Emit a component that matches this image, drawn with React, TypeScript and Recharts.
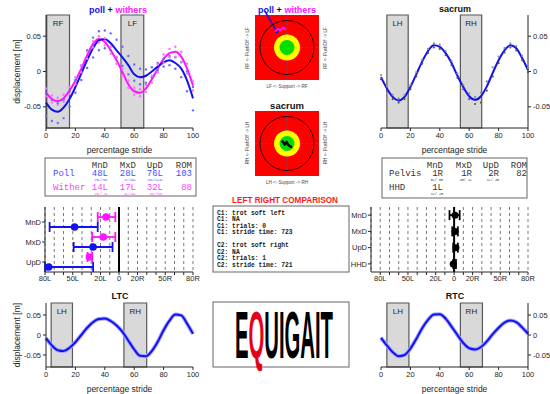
import React from 'react'
import {
  ComposedChart, ScatterChart, Line, Scatter, XAxis, YAxis, CartesianGrid,
  ReferenceArea, ReferenceLine, ReferenceDot, ErrorBar,
} from 'recharts'

const SANS = '"Liberation Sans", Arial, sans-serif'
const MONO = '"Liberation Mono", "Courier New", monospace'
const INK = '#262626'
const BLUE = '#1212f0'
const MAGENTA = '#ff14ff'

// percentage of stride at which the curves were read
const stride = [0, 4, 8, 12, 16, 20, 24, 28, 32, 36, 40, 44, 48, 52, 56, 60, 64, 68, 72, 76, 80, 84, 88, 92, 96, 100]

// poll + withers (m)
const poll = [-0.044, -0.054, -0.057, -0.051, -0.039, -0.022, -0.003, 0.016, 0.033, 0.044, 0.046, 0.040, 0.030, 0.020, 0.009, -0.004, -0.008, -0.006, 0.000, 0.007, 0.013, 0.016, 0.012, 0.004, -0.013, -0.038]
const pollHi = [-0.030, -0.040, -0.045, -0.040, -0.028, -0.012, 0.008, 0.030, 0.048, 0.057, 0.058, 0.054, 0.045, 0.035, 0.022, 0.010, 0.004, 0.003, 0.006, 0.012, 0.018, 0.022, 0.020, 0.013, 0.000, -0.022]
const pollLo = [-0.063, -0.070, -0.073, -0.066, -0.050, -0.030, -0.012, 0.005, 0.020, 0.030, 0.033, 0.030, 0.020, 0.008, -0.004, -0.013, -0.018, -0.016, -0.008, 0.001, 0.007, 0.009, 0.004, -0.008, -0.028, -0.055]
const withers = [-0.030, -0.039, -0.042, -0.038, -0.027, -0.013, 0.004, 0.023, 0.039, 0.046, 0.042, 0.030, 0.016, -0.001, -0.018, -0.028, -0.030, -0.024, -0.011, 0.004, 0.018, 0.026, 0.028, 0.021, 0.004, -0.020]
const withersHi = [-0.024, -0.034, -0.037, -0.033, -0.022, -0.008, 0.009, 0.028, 0.043, 0.050, 0.047, 0.035, 0.021, 0.004, -0.013, -0.023, -0.025, -0.019, -0.006, 0.010, 0.024, 0.032, 0.035, 0.028, 0.011, -0.013]
const withersLo = [-0.035, -0.044, -0.047, -0.043, -0.032, -0.018, -0.001, 0.018, 0.034, 0.041, 0.037, 0.025, 0.011, -0.006, -0.023, -0.033, -0.035, -0.029, -0.016, -0.001, 0.012, 0.020, 0.021, 0.014, -0.003, -0.027]

// sacrum, left and right tuber coxae (m)
const sacrum = [-0.008, -0.024, -0.036, -0.041, -0.036, -0.022, -0.004, 0.014, 0.029, 0.037, 0.035, 0.026, 0.012, -0.006, -0.022, -0.035, -0.040, -0.035, -0.021, -0.002, 0.016, 0.030, 0.037, 0.033, 0.019, 0.002]
const sacrumHi = [-0.005, -0.021, -0.033, -0.038, -0.033, -0.019, -0.001, 0.017, 0.032, 0.040, 0.038, 0.029, 0.015, -0.003, -0.019, -0.031, -0.036, -0.030, -0.014, 0.006, 0.021, 0.033, 0.040, 0.036, 0.022, 0.005]
const sacrumLo = [-0.011, -0.027, -0.039, -0.044, -0.039, -0.025, -0.007, 0.011, 0.026, 0.034, 0.032, 0.023, 0.009, -0.009, -0.025, -0.039, -0.046, -0.044, -0.027, -0.007, 0.012, 0.027, 0.034, 0.030, 0.016, -0.001]
const ltc = [-0.008, -0.026, -0.038, -0.040, -0.032, -0.018, 0.000, 0.018, 0.032, 0.040, 0.041, 0.035, 0.024, 0.008, -0.014, -0.036, -0.052, -0.053, -0.040, -0.017, 0.012, 0.036, 0.051, 0.049, 0.028, 0.003]
const rtc = [-0.007, -0.026, -0.043, -0.053, -0.050, -0.034, -0.010, 0.017, 0.038, 0.051, 0.052, 0.041, 0.021, 0.000, -0.020, -0.033, -0.036, -0.030, -0.016, 0.002, 0.018, 0.031, 0.036, 0.032, 0.019, 0.003]

type Stance = { label: string; from: number; to: number }
const foreStance: Stance[] = [{ label: 'RF', from: 0.5, to: 16 }, { label: 'LF', from: 51, to: 66.5 }]
const sacrumStance: Stance[] = [{ label: 'LH', from: 4, to: 18.5 }, { label: 'RH', from: 54, to: 68.5 }]
const ltcStance: Stance[] = [{ label: 'LH', from: 3.5, to: 18 }, { label: 'RH', from: 53, to: 68.5 }]
const rtcStance: Stance[] = [{ label: 'LH', from: 4, to: 19 }, { label: 'RH', from: 54, to: 69 }]

// asymmetry values (negative = L, positive = R) and the two-condition pairs
const foreRows = ['MnD', 'MxD', 'UpD']
const pollAsym = [-48, -28, -76]
const pollPairs = [[-23, -75], [-7, -49], [-28, -124]]
const pollRom = 103
const withersAsym = [-14, -17, -32]
const withersPairs = [[-23, -4], [-4, -29], [-29, -34]]
const withersRom = 88

const hindRows = ['MnD', 'MxD', 'UpD', 'HHD']
const hindAsym = [1, 1, 2, -1]
const hindPairs = [[-5, 6], [4, -2], [-1, 4], [-1, 2]]
const pelvisRom = 82

const asymTicks = [-80, -70, -60, -50, -40, -30, -20, -10, 0, 10, 20, 30, 40, 50, 60, 70, 80]
const asymLabelled = [80, 50, 20]

// target plot traces (normalised units)
const withersTrace = [{ x: -0.36, y: 0.5 }, { x: -0.28, y: 0.57 }, { x: -0.2, y: 0.53 }, { x: -0.13, y: 0.61 }, { x: -0.06, y: 0.56 }]
const pollTrace = [{ x: -0.34, y: 0.46 }, { x: -0.27, y: 0.5 }]
const sacrumTrace = [{ x: -0.14, y: 0.06 }, { x: -0.07, y: -0.02 }, { x: -0.01, y: 0.04 }, { x: 0.05, y: -0.05 }, { x: 0.13, y: -0.11 }]

const comparisonLines = [
  'C1: trot soft left', 'C1: NA', 'C1: trials: 0', 'C1: stride time: 723', '',
  'C2: trot soft right', 'C2: NA', 'C2: trials: 1', 'C2: stride time: 721',
]

const foreData = stride.map((x, i) => ({
  x, poll: poll[i], pollHi: pollHi[i], pollLo: pollLo[i],
  withers: withers[i], withersHi: withersHi[i], withersLo: withersLo[i],
}))
const sacrumData = stride.map((x, i) => ({ x, v: sacrum[i], hi: sacrumHi[i], lo: sacrumLo[i] }))
const ltcData = stride.map((x, i) => ({ x, v: ltc[i] }))
const rtcData = stride.map((x, i) => ({ x, v: rtc[i] }))

const side = (v: number) => (v === 0 ? '0' : `${Math.abs(v)}${v < 0 ? 'L' : 'R'}`)
const pair = (p: number[]) => `${side(p[0])}/${side(p[1]).padStart(3, ' ')}`
// error bar spans the pair, cut at the axis limits (the axis clips it in the original)
const errPoint = (x: number, y: number, p: number[], lim: number[]) => ({
  x, y,
  err: [x - Math.max(lim[0], Math.min(p[0], p[1])), Math.min(lim[1], Math.max(p[0], p[1])) - x],
})

const tickStyle = { fill: INK, fontSize: 7.5, fontFamily: SANS }

function StridePanel({ left, top, width, height, margin, orient, data, stance, yLabel, children }: any) {
  return (
    <div style={{ position: 'absolute', left, top }}>
      <ComposedChart width={width} height={height} margin={margin} data={data}>
        {stance.map((s: Stance) => (
          <ReferenceArea key={s.label} x1={s.from} x2={s.to} y1={-0.08} y2={0.08}
            fill="#d9d9d9" fillOpacity={1} stroke="#595959" strokeWidth={1.2}
            label={{ value: s.label, position: 'insideTop', offset: 5, fill: INK, fontSize: 8, fontFamily: SANS }} />
        ))}
        <XAxis dataKey="x" type="number" domain={[0, 100]} ticks={[0, 20, 40, 60, 80, 100]} height={27}
          tick={tickStyle} tickSize={3} tickMargin={2} stroke={INK}
          label={{ value: 'percentage stride', position: 'insideBottom', offset: 2, fill: INK, fontSize: 8.5, fontFamily: SANS }} />
        <YAxis orientation={orient} type="number" domain={[-0.08, 0.08]} ticks={[-0.05, 0, 0.05]}
          width={orient === 'left' ? 46 : 22} tick={tickStyle} tickSize={3} tickMargin={2} stroke={INK}
          tickFormatter={(v: number) => (v === 0 ? '0' : v.toFixed(2))}
          label={yLabel ? { value: yLabel, angle: -90, position: 'insideLeft', offset: 17, fill: INK, fontSize: 8.5, fontFamily: SANS, style: { textAnchor: 'middle' } } : undefined} />
        {children}
      </ComposedChart>
    </div>
  )
}

function AsymmetryPanel({ left, top, width, margin, yWidth, xDomain, yDomain, rows, series }: any) {
  return (
    <div style={{ position: 'absolute', left, top }}>
      <ScatterChart width={width} height={90} margin={margin}>
        <CartesianGrid horizontal={false} strokeDasharray="3 3" stroke="#7a7a7a" />
        <XAxis type="number" dataKey="x" domain={xDomain} allowDataOverflow ticks={asymTicks} interval={0}
          tickFormatter={(v: number) => (v === 0 ? '0' : asymLabelled.includes(Math.abs(v)) ? side(v) : '')}
          height={18} tick={tickStyle} tickSize={3} tickMargin={1} stroke={INK} />
        <YAxis type="number" dataKey="y" domain={yDomain} reversed allowDataOverflow
          ticks={rows.map((_: string, i: number) => i + 1)} tickFormatter={(v: number) => rows[v - 1] ?? ''}
          width={yWidth} tick={tickStyle} tickSize={3} tickMargin={1} stroke={INK} />
        <ReferenceLine x={0} stroke="#000" strokeWidth={2} />
        {series.map((s: any) => (
          <Scatter key={s.name} name={s.name} data={s.points} fill={s.color} isAnimationActive={false}
            shape={(p: any) => <circle cx={p.cx} cy={p.cy} r={s.r} fill={s.color} />}>
            <ErrorBar dataKey="err" direction="x" width={5} stroke={s.color} strokeWidth={1.8} />
          </Scatter>
        ))}
      </ScatterChart>
    </div>
  )
}

function TargetPanel({ top, traces, arrow }: any) {
  return (
    <div style={{ position: 'absolute', left: 245, top }}>
      <ScatterChart width={84} height={90} margin={{ top: 15, right: 10, bottom: 10, left: 10 }}>
        <XAxis type="number" dataKey="x" domain={[-1, 1]} hide />
        <YAxis type="number" dataKey="y" domain={[-1, 1]} hide />
        <ReferenceArea x1={-1} x2={1} y1={-1} y2={1} fill="#ff0000" fillOpacity={1} stroke="none" />
        <ReferenceDot x={0} y={0} r={27} fill="none" stroke="#000" strokeWidth={0.8} />
        <ReferenceDot x={0} y={0} r={13} fill="#ffff00" stroke="none" />
        <ReferenceDot x={0} y={0} r={7.5} fill="#00dd00" stroke="none" />
        <ReferenceLine x={0} stroke="#3a5aa8" strokeDasharray="3 2" strokeWidth={0.8} />
        <ReferenceLine y={0} stroke="#3a5aa8" strokeDasharray="3 2" strokeWidth={0.8} />
        {traces.map((t: any) => (
          <Scatter key={t.name} name={t.name} data={t.points} isAnimationActive={false}
            line={{ stroke: t.color, strokeWidth: t.width }}
            shape={(p: any) => <circle cx={p.cx} cy={p.cy} r={t.width / 2} fill={t.color} />} />
        ))}
        {arrow && <ReferenceLine segment={arrow} stroke={BLUE} strokeWidth={1.5} ifOverflow="visible" />}
      </ScatterChart>
    </div>
  )
}

function Overlay() {
  const leftEnds = [108, 136, 163, 192]
  const rightEnds = [443, 472, 499, 527]
  const pollCol = '#4b4bff'
  const witherCol = '#ff40ff'
  const grey = '#333'
  return (
    <svg width={550} height={394} style={{ position: 'absolute', left: 0, top: 0, pointerEvents: 'none' }}>
      {/* titles */}
      <text x={118} y={12.5} textAnchor="middle" fontSize={9} fontWeight="bold" fontFamily={SANS}>
        <tspan fill={BLUE}>poll</tspan><tspan fill="#111"> + </tspan><tspan fill={MAGENTA}>withers</tspan>
      </text>
      <text x={287} y={12.5} textAnchor="middle" fontSize={9} fontWeight="bold" fontFamily={SANS}>
        <tspan fill={BLUE}>poll</tspan><tspan fill="#111"> + </tspan><tspan fill={MAGENTA}>withers</tspan>
      </text>
      <text x={455} y={12} textAnchor="middle" fontSize={9} fontWeight="bold" fontFamily={SANS} fill="#111">sacrum</text>
      <text x={287} y={108.5} textAnchor="middle" fontSize={9.5} fontWeight="bold" fontFamily={SANS} fill="#111">sacrum</text>
      <text x={120} y={299} textAnchor="middle" fontSize={9} fontWeight="bold" fontFamily={SANS} fill="#111">LTC</text>
      <text x={455} y={299} textAnchor="middle" fontSize={9} fontWeight="bold" fontFamily={SANS} fill="#111">RTC</text>

      {/* target side labels */}
      {[[48, 'RF', 'LF', 86, 'LF  <- Support ->  RF'], [143, 'RH', 'LH', 182, 'LH  <- Support ->  RH']].map(([cy, a, b, by, bottom]: any) => (
        <g key={cy} fontSize={4.6} fontFamily={SANS} fill="#444" style={{ whiteSpace: 'pre' }}>
          <text transform={`translate(249,${cy}) rotate(-90)`} textAnchor="middle">{`${a}  <- PushOff ->  ${b}`}</text>
          <text transform={`translate(327,${cy}) rotate(-90)`} textAnchor="middle">{`${a}  <- PushOff ->  ${b}`}</text>
          <text x={287} y={by + 1.5} textAnchor="middle">{bottom}</text>
        </g>
      ))}

      {/* fore limb table */}
      <rect x={45} y={158} width={151} height={38} fill="#fff" stroke="#666" strokeWidth={1} />
      <g fontFamily={MONO} fontSize={9} textAnchor="end" style={{ whiteSpace: 'pre' }}>
        {['MnD', 'MxD', 'UpD', 'ROM'].map((c, i) => <text key={c} x={leftEnds[i]} y={168} fill={grey}>{c}</text>)}
        <text x={53} y={176} fill={pollCol} textAnchor="start">Poll</text>
        {pollAsym.map((v, i) => <text key={i} x={leftEnds[i]} y={176} fill={pollCol}>{side(v)}</text>)}
        <text x={leftEnds[3]} y={176} fill={pollCol}>{pollRom}</text>
        {pollPairs.map((p, i) => <text key={i} x={leftEnds[i]} y={180.5} fill={pollCol} fontSize={3.3}>{pair(p)}</text>)}
        <text x={53} y={190} fill={witherCol} textAnchor="start">Wither</text>
        {withersAsym.map((v, i) => <text key={i} x={leftEnds[i]} y={190} fill={witherCol}>{side(v)}</text>)}
        <text x={leftEnds[3]} y={190} fill={witherCol}>{withersRom}</text>
        {withersPairs.map((p, i) => <text key={i} x={leftEnds[i]} y={194.5} fill={witherCol} fontSize={3.3}>{pair(p)}</text>)}
      </g>

      {/* hind limb table */}
      <rect x={382} y={158} width={145} height={40} fill="#fff" stroke="#666" strokeWidth={1} />
      <g fontFamily={MONO} fontSize={9} textAnchor="end" fill={grey} style={{ whiteSpace: 'pre' }}>
        {['MnD', 'MxD', 'UpD', 'ROM'].map((c, i) => <text key={c} x={rightEnds[i]} y={168}>{c}</text>)}
        <text x={389} y={176} textAnchor="start">Pelvis</text>
        {hindAsym.slice(0, 3).map((v, i) => <text key={i} x={rightEnds[i]} y={176}>{side(v)}</text>)}
        <text x={rightEnds[3]} y={176}>{pelvisRom}</text>
        {hindPairs.slice(0, 3).map((p, i) => <text key={i} x={rightEnds[i]} y={180.5} fontSize={3.4}>{pair(p)}</text>)}
        <text x={389} y={190} textAnchor="start">HHD</text>
        <text x={rightEnds[0]} y={190}>{side(hindAsym[3])}</text>
        <text x={rightEnds[0]} y={194.5} fontSize={3.4}>{pair(hindPairs[3])}</text>
      </g>

      {/* comparison */}
      <text x={285} y={203} textAnchor="middle" fontSize={8.5} fontWeight="bold" fontFamily={SANS} fill="#ff1a1a"
        textLength={106} lengthAdjust="spacingAndGlyphs">LEFT RIGHT COMPARISON</text>
      <rect x={213} y={206} width={136} height={66} fill="#fff" stroke="#666" strokeWidth={1} />
      <g fontFamily={MONO} fontSize={6.3} fontWeight="bold" fill="#222">
        {comparisonLines.map((l, i) => <text key={i} x={217} y={214.5 + i * 6.55}>{l}</text>)}
      </g>

      {/* logo */}
      <rect x={213} y={302} width={136} height={65} fill="#fff" stroke="#666" strokeWidth={1} />
      <text x={284} y={358} textAnchor="middle" fontSize={66} fontWeight="bold" fill="#000"
        fontFamily='"Liberation Sans Narrow", "Liberation Sans", Arial' textLength={98} lengthAdjust="spacingAndGlyphs">
        E<tspan fill="#e8001a">Q</tspan>UIGAIT
      </text>
    </svg>
  )
}

export default function App() {
  return (
    <div style={{ position: 'absolute', left: 0, top: 0, width: 550, height: 394, background: '#fff', overflow: 'hidden', fontFamily: SANS }}>
      <StridePanel left={0} top={0} width={200} height={155} margin={{ top: 15, right: 7, bottom: 0, left: 0 }}
        orient="left" data={foreData} stance={foreStance} yLabel="displacement [m]">
        {[
          <Line key="ph" dataKey="pollHi" stroke="none" dot={{ r: 1.2, fill: '#6a6aff', stroke: 'none' }} isAnimationActive={false} />,
          <Line key="pl" dataKey="pollLo" stroke="none" dot={{ r: 1.2, fill: '#6a6aff', stroke: 'none' }} isAnimationActive={false} />,
          <Line key="wh" dataKey="withersHi" stroke="none" dot={{ r: 1.2, fill: '#ff70ff', stroke: 'none' }} isAnimationActive={false} />,
          <Line key="wl" dataKey="withersLo" stroke="none" dot={{ r: 1.2, fill: '#ff70ff', stroke: 'none' }} isAnimationActive={false} />,
          <Line key="w" type="monotone" dataKey="withers" stroke={MAGENTA} strokeWidth={2} dot={false} isAnimationActive={false} />,
          <Line key="p" type="monotone" dataKey="poll" stroke={BLUE} strokeWidth={2} dot={false} isAnimationActive={false} />,
        ]}
      </StridePanel>

      <StridePanel left={360} top={0} width={190} height={155} margin={{ top: 15, right: 0, bottom: 0, left: 21 }}
        orient="right" data={sacrumData} stance={sacrumStance}>
        {[
          <Line key="h" dataKey="hi" stroke="none" dot={{ r: 1.1, fill: '#8c8c8c', stroke: 'none' }} isAnimationActive={false} />,
          <Line key="v" type="monotone" dataKey="v" stroke={BLUE} strokeWidth={2} dot={false} isAnimationActive={false} />,
          <Line key="l" dataKey="lo" stroke="none" dot={{ r: 1.1, fill: '#555', stroke: 'none' }} isAnimationActive={false} />,
        ]}
      </StridePanel>

      <StridePanel left={0} top={290} width={200} height={104} margin={{ top: 13, right: 7, bottom: 0, left: 0 }}
        orient="left" data={ltcData} stance={ltcStance} yLabel="displacement [m]">
        {[
          <Line key="halo" type="monotone" dataKey="v" stroke="#a5a5ff" strokeWidth={4} dot={false} isAnimationActive={false} />,
          <Line key="v" type="monotone" dataKey="v" stroke={BLUE} strokeWidth={2} dot={false} isAnimationActive={false} />,
        ]}
      </StridePanel>

      <StridePanel left={360} top={290} width={190} height={104} margin={{ top: 13, right: 0, bottom: 0, left: 21 }}
        orient="right" data={rtcData} stance={rtcStance}>
        {[
          <Line key="halo" type="monotone" dataKey="v" stroke="#a5a5ff" strokeWidth={4} dot={false} isAnimationActive={false} />,
          <Line key="v" type="monotone" dataKey="v" stroke={BLUE} strokeWidth={2} dot={false} isAnimationActive={false} />,
        ]}
      </StridePanel>

      <TargetPanel top={0}
        traces={[
          { name: 'withers', color: MAGENTA, width: 2, points: withersTrace },
          { name: 'poll', color: BLUE, width: 1.5, points: pollTrace },
        ]}
        arrow={[{ x: -0.69, y: 1.12 }, { x: -0.31, y: 0.47 }]} />
      <TargetPanel top={96} traces={[{ name: 'sacrum', color: '#000', width: 2.5, points: sacrumTrace }]} />

      <AsymmetryPanel left={0} top={200} width={200} margin={{ top: 7, right: 7, bottom: 0, left: 0 }} yWidth={45}
        xDomain={[-80, 80]} yDomain={[0.25, 3.5]} rows={foreRows}
        series={[
          { name: 'withers', color: MAGENTA, r: 3.8, points: withersAsym.map((v, i) => errPoint(v, i + 0.75, withersPairs[i], [-80, 80])) },
          { name: 'poll', color: BLUE, r: 3.8, points: pollAsym.map((v, i) => errPoint(v, i + 1.25, pollPairs[i], [-80, 80])) },
        ]} />

      <AsymmetryPanel left={330} top={200} width={220} margin={{ top: 7, right: 22, bottom: 0, left: 0 }} yWidth={41}
        xDomain={[-90, 80]} yDomain={[0.5, 4.5]} rows={hindRows}
        series={[
          { name: 'pelvis', color: '#000', r: 3.5, points: hindAsym.map((v, i) => errPoint(v, i + 1, hindPairs[i], [-90, 80])) },
        ]} />

      <Overlay />
    </div>
  )
}
